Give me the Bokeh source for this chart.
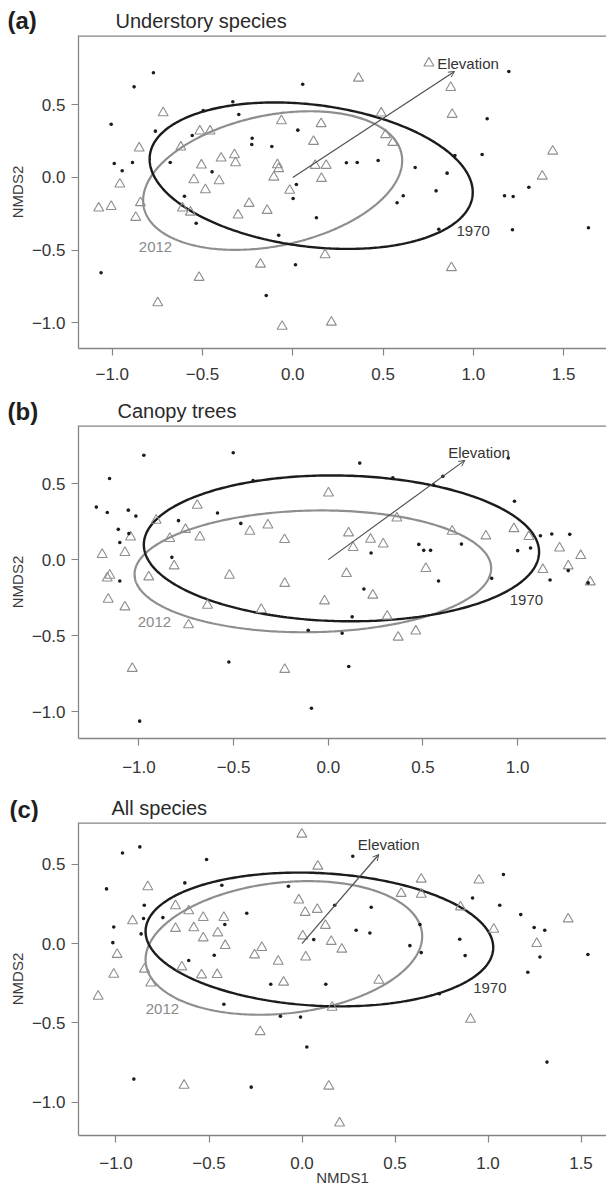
import numpy as np
from bokeh.plotting import figure
from bokeh.layouts import column
from bokeh.models import (Range1d, FixedTicker, Label, Arrow, OpenHead, Span,
                          CustomJSTickFormatter)
from bokeh.core.properties import value
from bokeh.embed import file_html
from bokeh.resources import INLINE

FONT = "Liberation Sans"

# ---------------- (a) Understory species ----------------
a_1970_x = [-0.772, -0.879, 0.055, -0.332, -0.496, -0.299, -1.006, -0.761, 0.028, -0.557, -0.225, -0.227,
            -0.116, -0.989, -0.888, -0.679, -0.945, -0.447, 0.297, 0.357, 0.02, 0.002, -0.6, -0.535, 0.131,
            -0.078, 0.015, -1.062, -0.147, 1.197, 1.077, 0.898, 1.049, 0.473, 0.678, 0.855, 1.308, 0.794,
            0.612, 0.578, 1.173, 1.221, 0.809, 1.217, 1.638]
a_1970_y = [0.721, 0.624, 0.642, 0.521, 0.461, 0.434, 0.367, 0.319, 0.326, 0.289, 0.27, 0.227,
            0.213, 0.096, 0.103, 0.103, 0.046, 0.039, 0.101, 0.103, -0.048, -0.145, -0.129, -0.315, -0.277,
            -0.397, -0.601, -0.656, -0.812, 0.73, 0.404, 0.151, 0.158, 0.117, 0.069, 0.03, -0.067, -0.092,
            -0.126, -0.174, -0.126, -0.131, -0.356, -0.36, -0.346]
a_2012_x = [-0.718, -0.515, -0.458, -0.851, -0.62, -0.397, -0.323, -0.317, -0.506, -0.958, -0.548, -0.408,
            -0.484, -1.075, -1.006, -0.844, -0.87, -0.611, -0.567, -0.303, -0.242, -0.142, -0.063, -0.085,
            -0.078, -0.105, -0.017, 0.115, 0.157, 0.124, 0.185, 0.159, -0.179, 0.179, -0.519, -0.748, -0.059,
            0.214, 0.364, 0.754, 0.875, 0.883, 0.49, 0.514, 0.554, 1.44, 1.382, 0.879]
a_2012_y = [0.445, 0.319, 0.319, 0.202, 0.209, 0.133, 0.156, 0.101, 0.085, -0.046, -0.016, -0.023,
            -0.085, -0.211, -0.2, -0.174, -0.275, -0.211, -0.239, -0.259, -0.179, -0.227, 0.39, 0.087,
            0.06, 0.002, -0.089, 0.248, 0.37, 0.083, 0.083, -0.007, -0.597, -0.532, -0.688, -0.863, -1.025,
            -0.996, 0.683, 0.787, 0.619, 0.434, 0.443, 0.294, 0.241, 0.181, 0.009, -0.621]
# ellipse: centre x, centre y, half x-extent, half y-extent, cos(phase)
a_ell_1970 = [0.102, 0.0125, 0.895, 0.504, -0.226]
a_ell_2012 = [-0.1115, -0.021, 0.7175, 0.477, 0.289]
a_arrow = [0.896, 0.73]
a_elev_lab = [0.80, 0.788]
a_lab_1970 = [0.907, -0.365]
a_lab_2012 = [-0.853, -0.48]

# ---------------- (b) Canopy trees ----------------
b_1970_x = [-0.974, -1.155, -0.502, -1.225, -1.167, -1.056, -1.016, -1.109, -1.101, -1.053, -1.101, -0.585,
            -0.791, -0.462, -0.826, -0.397, -0.525, -0.106, 0.073, 0.126, 0.108, -0.089, 0.166, -0.996,
            0.341, 0.605, 0.555, 0.95, 0.983, 0.226, 0.478, 0.504, 0.54, 0.703, 0.582, 0.188, 0.863, 1.0,
            1.068, 1.12, 1.18, 1.275, 1.171, 1.267, 1.372]
b_1970_y = [0.686, 0.533, 0.702, 0.345, 0.31, 0.325, 0.286, 0.199, 0.112, 0.171, -0.14, 0.306,
            0.256, 0.238, 0.015, 0.52, -0.672, -0.464, -0.484, -0.376, -0.702, -0.976, 0.634, -1.061,
            0.538, 0.547, 0.492, 0.667, 0.383, 0.043, 0.1, 0.061, 0.061, 0.102, -0.14, -0.193, -0.123, 0.059,
            0.076, 0.157, 0.168, 0.166, -0.134, -0.072, -0.153]
b_2012_x = [-1.194, -1.154, -1.167, -1.162, -1.074, -1.044, -1.074, -1.035, -0.948, -0.909, -0.837, -0.814,
            -0.754, -0.692, -0.678, -0.638, -0.738, -0.522, -0.414, -0.319, -0.231, -0.23, -0.354, -0.23,
            -0.02, 0.001, 0.107, 0.131, 0.096, 0.223, 0.29, 0.362, 0.235, 0.311, 0.369, 0.462, 0.515, 0.654,
            0.832, 0.98, 1.059, 1.133, 1.221, 1.267, 1.333, 1.383]
b_2012_y = [0.033, -0.103, -0.121, -0.261, 0.046, 0.148, -0.311, -0.715, -0.114, 0.258, 0.138, -0.042,
            0.197, 0.356, 0.148, -0.3, -0.429, -0.103, 0.186, 0.227, 0.131, -0.157, -0.328, -0.722,
            -0.272, 0.437, 0.175, 0.079, -0.092, 0.133, 0.102, 0.273, -0.234, -0.372, -0.51, -0.47, -0.059,
            0.186, 0.155, 0.203, 0.151, -0.066, 0.076, -0.042, 0.026, -0.147]
b_ell_1970 = [0.0695, 0.074, 1.0435, 0.479, -0.05]
b_ell_2012 = [-0.0815, -0.077, 0.9415, 0.40, 0.05]
b_arrow = [0.721, 0.652]
b_elev_lab = [0.633, 0.706]
b_lab_1970 = [0.958, -0.267]
b_lab_2012 = [-1.006, -0.409]

# ---------------- (c) All species ----------------
c_1970_x = [-0.965, -0.872, -0.513, -1.051, -0.63, -0.431, -0.848, -0.852, -0.748, -1.012, -1.017, -0.865,
            -0.415, -0.297, -0.073, -0.609, -0.472, -0.42, -0.168, -0.116, -0.008, 0.026, 0.063, 0.128,
            -0.904, -0.273, 0.273, 0.176, 0.291, 0.372, 0.365, 0.58, 0.641, 0.634, 0.739, 0.848, 0.877,
            0.917, 1.063, 1.083, 1.176, 1.248, 1.305, 1.279, 1.214, 1.537, 1.317]
c_1970_y = [0.572, 0.61, 0.531, 0.345, 0.383, 0.368, 0.242, 0.158, 0.164, 0.105, 0.006, 0.061,
            0.12, 0.191, 0.362, -0.107, -0.074, -0.383, -0.257, -0.459, -0.464, -0.653, 0.025, -0.257,
            -0.855, -0.906, 0.551, 0.242, 0.084, 0.229, 0.067, -0.013, -0.057, 0.12, -0.316, 0.027, -0.076,
            0.288, 0.242, 0.436, 0.183, 0.101, 0.084, -0.085, -0.181, -0.069, -0.748]
c_2012_x = [-0.001, 0.085, -0.829, -0.68, -0.609, -0.911, -0.531, -0.42, -0.68, -0.582, -0.531, -0.453,
            -0.413, -0.994, -1.012, -1.096, -0.847, -0.813, -0.646, -0.54, -0.456, -0.255, -0.216, -0.128,
            -0.099, -0.017, 0.017, 0.082, 0.126, 0.004, 0.02, 0.157, 0.214, 0.162, -0.225, -0.634, 0.144,
            0.202, 0.641, 0.533, 0.641, 0.951, 0.852, 1.031, 1.431, 1.262, 0.413, 0.906]
c_2012_y = [0.69, 0.488, 0.358, 0.238, 0.206, 0.143, 0.164, 0.164, 0.095, 0.099, 0.035, 0.067,
            -0.013, -0.069, -0.194, -0.333, -0.162, -0.249, -0.148, -0.198, -0.196, -0.072, -0.025, -0.112,
            -0.244, 0.274, 0.196, 0.215, 0.114, 0.048, -0.085, 0.013, -0.036, -0.402, -0.556, -0.895, -0.9,
            -1.133, 0.406, 0.316, 0.311, 0.4, 0.231, 0.09, 0.155, 0.0, -0.232, -0.478]
c_ell_1970 = [0.0935, 0.026, 0.9345, 0.422, -0.12]
c_ell_2012 = [-0.0975, -0.0275, 0.7435, 0.4215, 0.175]
c_arrow = [0.413, 0.562]
c_elev_lab = [0.30, 0.624]
c_lab_1970 = [0.92, -0.279]
c_lab_2012 = [-0.84, -0.415]

x_ticks_a = [-1.0, -0.5, 0.0, 0.5, 1.0, 1.5]
x_ticks_b = [-1.0, -0.5, 0.0, 0.5, 1.0]
x_ticks_c = [-1.0, -0.5, 0.0, 0.5, 1.0, 1.5]
y_ticks = [-1.0, -0.5, 0.0, 0.5]

FRAME = "#858585"
TICKLAB = "#353535"
DARK = "#1c1c1c"
GRAY = "#8e8e8e"
W = 606

fmt_code = "return tick.toFixed(1).replace('-', '\u2212');"


def ellipse_pts(e):
    cx, cy, rx, ry, c = e
    s = np.sqrt(1.0 - c * c)
    t = np.linspace(0, 2 * np.pi, 361)
    return cx + rx * np.cos(t), cy + ry * (c * np.cos(t) + s * np.sin(t))


def header(tag, title, h, tag_x, tag_mid, title_x, title_mid):
    p = figure(width=W, height=h, x_range=Range1d(0, W), y_range=Range1d(h, 0), title=None,
               output_backend="svg", toolbar_location=None, min_border=0, frame_align=False,
               x_axis_location=None, y_axis_location=None)
    p.outline_line_color = None
    p.xgrid.visible = False
    p.ygrid.visible = False
    p.text(x=[tag_x], y=[tag_mid], text=[tag], text_font=value(FONT), text_font_size="24px",
           text_font_style="bold", text_color="#1e1e1e", text_baseline="middle")
    p.text(x=[title_x], y=[title_mid], text=[title], text_font=value(FONT), text_font_size="20px",
           text_color="#2a2a2a", text_baseline="middle")
    return p


def panel(xs70, ys70, xs12, ys12, e70, e12, arrow, elev, l70, l12,
          xr, yr, xticks, height, bbottom, xstand, xlabel=None):
    p = figure(width=W, height=height, x_range=Range1d(*xr), y_range=Range1d(*yr), title=None,
               output_backend="svg", toolbar_location=None, frame_align=False,
               min_border_left=78, min_border_right=0, min_border_top=0, min_border_bottom=bbottom)
    p.xgrid.visible = False
    p.ygrid.visible = False
    p.outline_line_color = None
    p.background_fill_color = "white"
    p.border_fill_color = "white"

    for ax, ticks, standoff in ((p.xaxis[0], xticks, xstand), (p.yaxis[0], y_ticks, 6)):
        ax.ticker = FixedTicker(ticks=ticks)
        ax.formatter = CustomJSTickFormatter(code=fmt_code)
        ax.axis_line_color = FRAME
        ax.axis_line_width = 1.3
        ax.major_tick_line_color = FRAME
        ax.major_tick_line_width = 1.2
        ax.major_tick_out = 7
        ax.major_tick_in = 0
        ax.minor_tick_line_color = None
        ax.major_label_text_font = FONT
        ax.major_label_text_font_size = "17px"
        ax.major_label_text_color = TICKLAB
        ax.major_label_standoff = standoff
    p.yaxis.axis_label = "NMDS2"
    p.yaxis.axis_label_text_font = FONT
    p.yaxis.axis_label_text_font_size = "15px"
    p.yaxis.axis_label_text_font_style = "normal"
    p.yaxis.axis_label_text_color = "#3a3a3a"
    p.yaxis.axis_label_standoff = 3
    if xlabel:
        p.xaxis.axis_label = xlabel
        p.xaxis.axis_label_text_font = FONT
        p.xaxis.axis_label_text_font_size = "15px"
        p.xaxis.axis_label_text_font_style = "normal"
        p.xaxis.axis_label_text_color = "#3a3a3a"
        p.xaxis.axis_label_standoff = -3

    # top edge of the plotting box
    p.add_layout(Span(location=yr[1], dimension="width", line_color=FRAME, line_width=2.6))

    ex, ey = ellipse_pts(e12)
    p.line(ex, ey, line_color=GRAY, line_width=2.2)
    ex, ey = ellipse_pts(e70)
    p.line(ex, ey, line_color=DARK, line_width=2.4)

    p.scatter(xs12, ys12, marker="triangle", size=10, fill_color=None, line_color=GRAY, line_width=1.1)
    p.scatter(xs70, ys70, marker="circle", size=3.6, fill_color=DARK, line_color=DARK, line_width=0)

    p.add_layout(Arrow(end=OpenHead(size=6, line_color="#505050", line_width=1),
                       x_start=0, y_start=0, x_end=arrow[0], y_end=arrow[1],
                       line_color="#505050", line_width=1.2))
    p.add_layout(Label(x=elev[0], y=elev[1], text="Elevation", text_font=FONT, text_font_size="15px",
                       text_color="#333333", text_baseline="middle", text_align="left"))
    p.add_layout(Label(x=l70[0], y=l70[1], text="1970", text_font=FONT, text_font_size="15px",
                       text_color="#3a3a3a", text_baseline="middle", text_align="left"))
    p.add_layout(Label(x=l12[0], y=l12[1], text="2012", text_font=FONT, text_font_size="15px",
                       text_color="#8a8a8a", text_baseline="middle", text_align="left"))
    return p


ha = header("(a)", "Understory species", 35, 7, 20, 115, 20)
pa = panel(a_1970_x, a_1970_y, a_2012_x, a_2012_y, a_ell_1970, a_ell_2012, a_arrow, a_elev_lab,
           a_lab_1970, a_lab_2012, (-1.187, 1.738), (-1.1769, 0.9773), x_ticks_a, 355, 42, 12)
hb = header("(b)", "Canopy trees", 35, 7, 21, 117, 20.5)
pb = panel(b_1970_x, b_1970_y, b_2012_x, b_2012_y, b_ell_1970, b_ell_2012, b_arrow, b_elev_lab,
           b_lab_1970, b_lab_2012, (-1.319, 1.469), (-1.175, 0.881), x_ticks_b, 355, 42, 15)
hc = header("(c)", "All species", 42, 9, 29, 111, 27)
pc = panel(c_1970_x, c_1970_y, c_2012_x, c_2012_y, c_ell_1970, c_ell_2012, c_arrow, c_elev_lab,
           c_lab_1970, c_lab_2012, (-1.2016, 1.637), (-1.211, 0.764), x_ticks_c, 370, 57, 14,
           xlabel="NMDS1")

layout = column(ha, pa, hb, pb, hc, pc, spacing=0)
open("out.html", "w").write(file_html(layout, INLINE))
